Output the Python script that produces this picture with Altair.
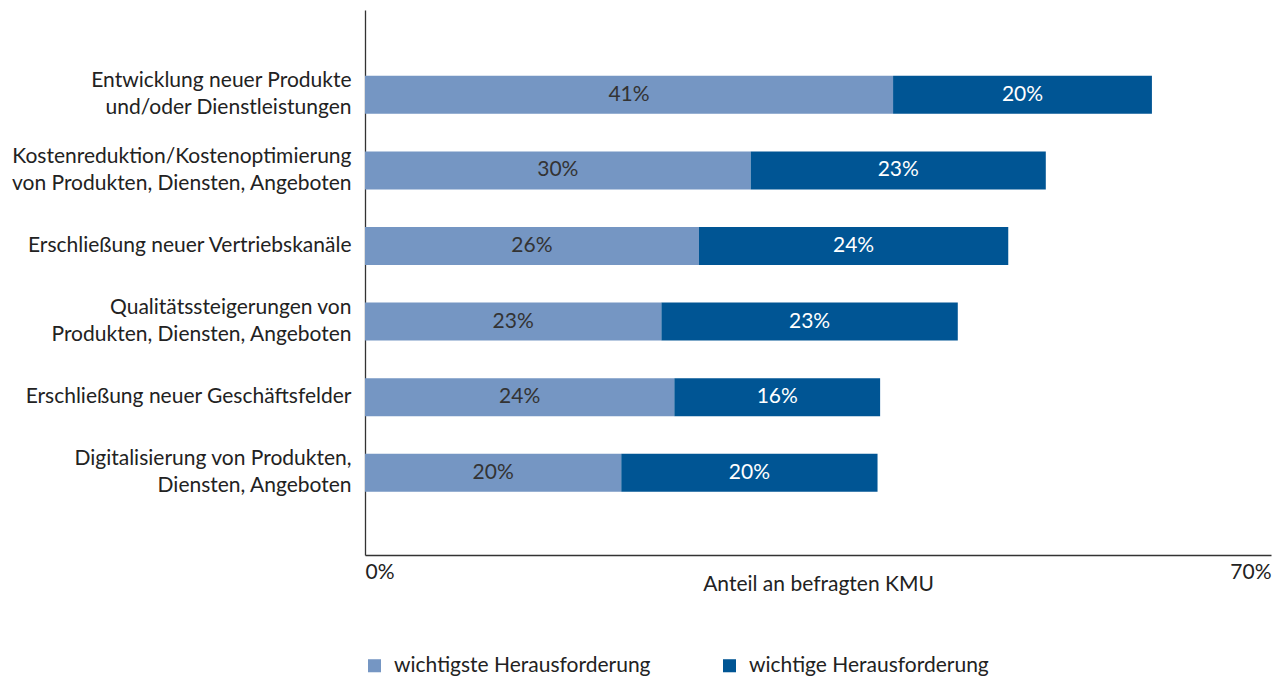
import altair as alt
import pandas as pd

categories = [
    "Entwicklung neuer Produkte\u00a0|und/oder Dienstleistungen",
    "Kostenreduktion/Kostenoptimierung|von Produkten, Diensten, Angeboten",
    "Erschließung neuer Vertriebskanäle",
    "Qualitätssteigerungen von|Produkten, Diensten, Angeboten",
    "Erschließung neuer Geschäftsfelder",
    "Digitalisierung von Produkten,\u00a0|Diensten, Angeboten",
]
wichtigste = [40.8, 29.8, 25.8, 22.9, 23.9, 19.8]
wichtige = [20.0, 22.8, 23.9, 22.9, 15.9, 19.8]
series = ["wichtigste Herausforderung", "wichtige Herausforderung"]
x_ticks = [0, 70]

FONT = "Lato"
FS = 21
bar_colors = ["#7596c3", "#005594"]
text_colors = ["#333333", "#ffffff"]

rows = []
for cat, a, b in zip(categories, wichtigste, wichtige):
    rows.append(dict(cat=cat, series=series[0], start=0.0, end=a, mid=a / 2,
                     label=f"{round(a)}%"))
    rows.append(dict(cat=cat, series=series[1], start=a, end=a + b, mid=a + b / 2,
                     label=f"{round(b)}%"))
df = pd.DataFrame(rows)

y_enc = alt.Y(
    "cat:N", sort=categories,
    scale=alt.Scale(paddingInner=0.497, paddingOuter=0.853, align=0.51),
    axis=alt.Axis(title=None, ticks=False, labelExpr="split(datum.label, '|')",
                  labelOffset={"condition": {"test": "indexof(datum.value, '|') >= 0",
                                             "value": -13.5}, "value": 0},
                  labelPadding=14, labelLineHeight=27, labelFontSize=FS,
                  labelFont=FONT, labelColor="#222222", labelLimit=0,
                  domainColor="#333333", domainWidth=1.3, grid=False),
)
x_scale = alt.Scale(domain=[0, 70], nice=False, zero=True)

bars = alt.Chart(df).mark_bar().encode(
    y=y_enc,
    x=alt.X("start:Q", scale=x_scale,
            axis=alt.Axis(values=x_ticks, labelExpr="datum.value + '%'",
                          labelFlush=True, ticks=False, grid=False,
                          labelFontSize=FS, labelFont=FONT, labelColor="#222222",
                          labelPadding=6, domainColor="#333333", domainWidth=1.3,
                          title="Anteil an befragten KMU", titleFont=FONT,
                          titleFontSize=FS, titleFontWeight="normal",
                          titleColor="#222222", titleBaseline="middle", titleY=29)),
    x2="end:Q",
    color=alt.Color("series:N",
                    scale=alt.Scale(domain=series, range=bar_colors),
                    legend=alt.Legend(title=None, orient="none", legendX=-1, legendY=645,
                                      direction="horizontal", symbolType="square",
                                      symbolSize=170, symbolStrokeWidth=0,
                                      labelFontSize=FS, labelFont=FONT, labelLimit=0,
                                      labelColor="#222222", labelOffset=9,
                                      columnPadding=68)),
)

texts = alt.Chart(df).mark_text(fontSize=FS, font=FONT).encode(
    y=alt.Y("cat:N", sort=categories),
    x=alt.X("mid:Q", scale=x_scale),
    text="label:N",
    color=alt.Color("series:N", scale=alt.Scale(domain=series, range=text_colors),
                    legend=None),
)

chart = alt.layer(bars, texts).resolve_scale(color="independent").properties(
    width=906, height=545,
    autosize=alt.AutoSizeParams(type="none"),
    padding={"left": 357, "top": 2, "right": 2, "bottom": 121},
).configure_view(stroke=None)

chart.save("out.html", embed_options={"renderer": "svg", "actions": False})
